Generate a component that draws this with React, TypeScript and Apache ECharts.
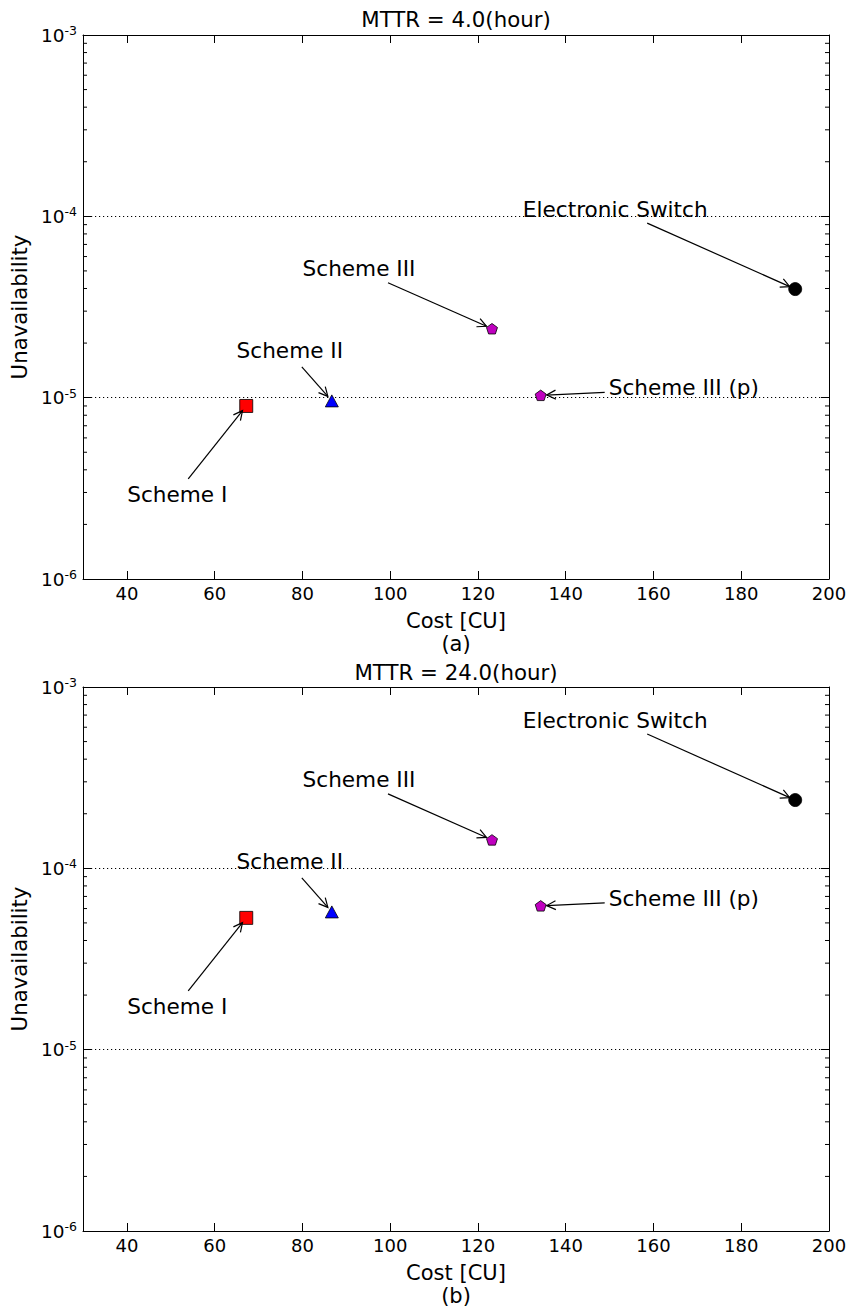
import React, { useEffect, useRef } from 'react';
import * as echarts from 'echarts';

// ---------------- data ----------------
const schemes = ['Scheme I', 'Scheme II', 'Scheme III', 'Scheme III (p)', 'Electronic Switch'];
const costs = [67.2, 86.7, 123.2, 134.3, 192.3];
const unavailMTTR4 = [9.0e-6, 9.6e-6, 2.4e-5, 1.03e-5, 3.97e-5];
const unavailMTTR24 = [5.33e-5, 5.75e-5, 1.435e-4, 6.21e-5, 2.38e-4];
const panelTitles = ['MTTR = 4.0(hour)', 'MTTR = 24.0(hour)'];
const panelTags = ['(a)', '(b)'];
const xTicks = [40, 60, 80, 100, 120, 140, 160, 180, 200];
const yMinorTicks = [
  2e-6, 3e-6, 4e-6, 5e-6, 6e-6, 7e-6, 8e-6, 9e-6,
  2e-5, 3e-5, 4e-5, 5e-5, 6e-5, 7e-5, 8e-5, 9e-5,
  2e-4, 3e-4, 4e-4, 5e-4, 6e-4, 7e-4, 8e-4, 9e-4,
];

// ---------------- styles ----------------
const FONT = 'DejaVu Sans';
const PENTAGON = 'path://M0,-1 L0.951,-0.309 L0.588,0.809 L-0.588,0.809 L-0.951,-0.309 Z';
const markers = [
  { symbol: 'rect', color: '#ff0000', size: [13, 13] },
  { symbol: 'triangle', color: '#0000ff', size: [13, 12] },
  { symbol: PENTAGON, color: '#bf00bf', size: [11, 10.5] },
  { symbol: PENTAGON, color: '#bf00bf', size: [11, 10.5] },
  { symbol: 'circle', color: '#000000', size: [13, 13] },
];
// text centre offset (dx, dy) and arrow start offset (sx, sy), pixels relative to the point
const annotations = [
  { dx: -69, dy: 89, sx: -58, sy: 73, align: 'center' },
  { dx: -42, dy: -50, sx: -30, sy: -34, align: 'center' },
  { dx: -133, dy: -60, sx: -104, sy: -46, align: 'center' },
  { dx: 68, dy: -7.5, sx: 64, sy: -3, align: 'left' },
  { dx: -180, dy: -79.5, sx: -148, sy: -66, align: 'center' },
];
const grids = [
  { left: 83, top: 35, width: 746, height: 544, titleY: 19.5 },
  { left: 83, top: 687, width: 746, height: 544, titleY: 672 },
];

function buildOption() {
  const xAxis: any[] = [];
  const yAxis: any[] = [];
  const series: any[] = [];
  const graphic: any[] = [];
  const values = [unavailMTTR4, unavailMTTR24];

  grids.forEach((g, k) => {
    const tick = { show: true, inside: true, length: 8, lineStyle: { color: '#000', width: 1 } };
    const line = { show: true, onZero: false, lineStyle: { color: '#000', width: 1 } };
    xAxis.push({
      type: 'value', gridIndex: k, min: 30, max: 200, position: 'bottom',
      axisLine: line,
      axisTick: { ...tick, customValues: xTicks },
      axisLabel: { customValues: xTicks, fontSize: 18, fontFamily: FONT, color: '#000', margin: 5 },
      splitLine: { show: false },
      name: 'Cost [CU]\n' + panelTags[k], nameLocation: 'middle', nameGap: 30,
      nameTextStyle: { fontSize: 21, fontFamily: FONT, color: '#000', lineHeight: 23 },
    });
    xAxis.push({
      type: 'value', gridIndex: k, min: 30, max: 200, position: 'top',
      axisLine: line,
      axisTick: { ...tick, customValues: xTicks },
      axisLabel: { show: false },
      splitLine: { show: false },
    });
    yAxis.push({
      type: 'log', logBase: 10, gridIndex: k, min: 1e-6, max: 1e-3, position: 'left',
      axisLine: line,
      axisTick: tick,
      axisLabel: {
        margin: 6,
        formatter: (v: number) => `{b|10}{s|${Math.round(Math.log10(v))}}`,
        rich: {
          b: { fontSize: 18.5, fontFamily: FONT, color: '#000', lineHeight: 22 },
          s: { fontSize: 12.5, fontFamily: FONT, color: '#000', lineHeight: 12, verticalAlign: 'top' },
        },
      },
      splitLine: {
        show: true, showMinLine: false, showMaxLine: false,
        lineStyle: { color: '#000', width: 1, type: [1.2, 2.8] },
      },
      name: 'Unavailability', nameLocation: 'middle', nameGap: 50,
      nameTextStyle: { fontSize: 21.3, fontFamily: FONT, color: '#000' },
    });
    yAxis.push({
      type: 'log', logBase: 10, gridIndex: k, min: 1e-6, max: 1e-3, position: 'right',
      axisLine: line,
      axisTick: tick,
      axisLabel: { show: false },
      splitLine: { show: false },
    });

    const xi = k * 2;
    const yi = k * 2;

    // minor log ticks on left and right
    series.push({
      type: 'custom', xAxisIndex: xi, yAxisIndex: yi, silent: true, clip: false, z: 3,
      data: yMinorTicks.map((v) => [30, v]),
      renderItem: (params: any, api: any) => {
        const v = api.value(1);
        const l = api.coord([30, v]);
        const r = api.coord([200, v]);
        return {
          type: 'group',
          children: [
            { type: 'line', shape: { x1: l[0], y1: l[1], x2: l[0] + 4, y2: l[1] }, style: { stroke: '#000', lineWidth: 1 } },
            { type: 'line', shape: { x1: r[0] - 4, y1: r[1], x2: r[0], y2: r[1] }, style: { stroke: '#000', lineWidth: 1 } },
          ],
        };
      },
    });

    // markers
    costs.forEach((c, i) => {
      const m = markers[i];
      series.push({
        type: 'scatter', name: schemes[i], xAxisIndex: xi, yAxisIndex: yi, z: 4,
        symbol: m.symbol, symbolSize: m.size,
        itemStyle: { color: m.color, borderColor: '#000', borderWidth: 0.8, opacity: 1 },
        data: [[c, values[k][i]]],
        silent: true,
      });
    });

    // annotations with arrows
    series.push({
      type: 'custom', xAxisIndex: xi, yAxisIndex: yi, silent: true, clip: false, z: 5,
      data: costs.map((c, i) => [c, values[k][i]]),
      renderItem: (params: any, api: any) => {
        const i = params.dataIndex;
        const a = annotations[i];
        const p = api.coord([api.value(0), api.value(1)]);
        const sx = p[0] + a.sx;
        const sy = p[1] + a.sy;
        const vx = p[0] - sx;
        const vy = p[1] - sy;
        const L = Math.hypot(vx, vy);
        const ux = vx / L;
        const uy = vy / L;
        const tx = p[0] - ux * 6;
        const ty = p[1] - uy * 6;
        const hx = tx - ux * 9;
        const hy = ty - uy * 9;
        const nx = -uy;
        const ny = ux;
        return {
          type: 'group',
          children: [
            {
              type: 'text', x: p[0] + a.dx, y: p[1] + a.dy,
              style: { text: schemes[i], fontSize: 21.6, fontFamily: FONT, fill: '#000', align: a.align, verticalAlign: 'middle' },
            },
            { type: 'line', shape: { x1: sx, y1: sy, x2: tx, y2: ty }, style: { stroke: '#000', lineWidth: 1.2 } },
            {
              type: 'polyline',
              shape: { points: [[hx + nx * 4.5, hy + ny * 4.5], [tx, ty], [hx - nx * 4.5, hy - ny * 4.5]] },
              style: { stroke: '#000', fill: 'none', lineWidth: 1.2 },
            },
          ],
        };
      },
    });

    graphic.push({
      type: 'text', x: g.left + g.width / 2, y: g.titleY,
      style: { text: panelTitles[k], fontSize: 21.3, fontFamily: FONT, fill: '#000', align: 'center', verticalAlign: 'middle' },
    });
  });

  return {
    animation: false,
    backgroundColor: '#ffffff',
    grid: grids.map((g) => ({ left: g.left, top: g.top, width: g.width, height: g.height, containLabel: false, outerBoundsMode: 'none' })),
    xAxis,
    yAxis,
    series,
    graphic,
  };
}

export default function App() {
  const ref = useRef<HTMLDivElement>(null);
  useEffect(() => {
    document.body.style.margin = '0';
    const chart = echarts.init(ref.current as HTMLDivElement, null, { renderer: 'svg' });
    chart.setOption(buildOption() as any);
    return () => chart.dispose();
  }, []);
  return <div ref={ref} style={{ width: 846, height: 1312 }} />;
}
